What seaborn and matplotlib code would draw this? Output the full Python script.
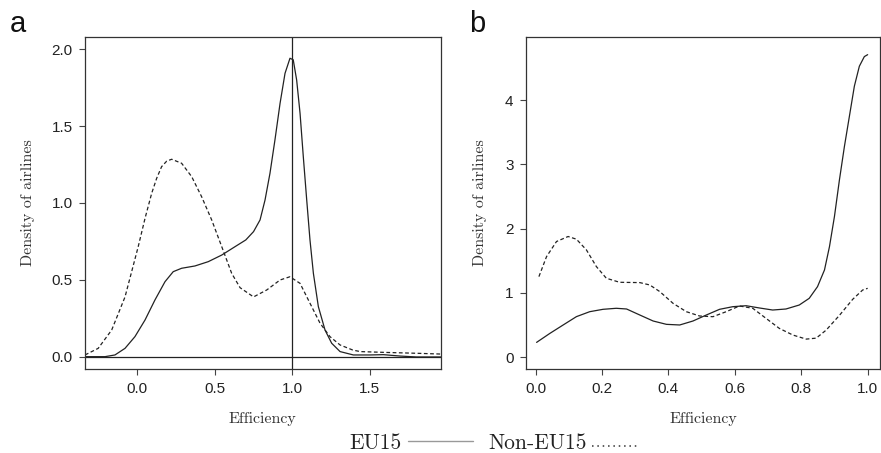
import numpy as np
import pandas as pd
import matplotlib
matplotlib.use("Agg")
import matplotlib.pyplot as plt
from matplotlib.lines import Line2D
import seaborn as sns

# panel a : all airlines, efficiency estimates
a_eu_x = [-0.337, -0.208, -0.144, -0.079, -0.015, 0.05, 0.114, 0.179, 0.232, 0.286, 0.372,
          0.458, 0.545, 0.63, 0.7, 0.75, 0.792, 0.824, 0.856, 0.888, 0.921, 0.953, 0.985,
          1.006, 1.028, 1.05, 1.071, 1.093, 1.114, 1.136, 1.168, 1.211, 1.254, 1.308,
          1.394, 1.5, 1.587, 1.695, 1.8, 1.957]
a_eu_y = [0.002, 0.002, 0.013, 0.056, 0.132, 0.24, 0.37, 0.489, 0.554, 0.576, 0.591,
          0.619, 0.662, 0.716, 0.76, 0.814, 0.89, 1.019, 1.193, 1.409, 1.647, 1.842, 1.94,
          1.93, 1.799, 1.582, 1.3, 1.019, 0.76, 0.543, 0.327, 0.175, 0.089, 0.035,
          0.013, 0.013, 0.015, 0.006, 0.0, 0.0]
a_non_x = [-0.337, -0.252, -0.165, -0.079, 0.006, 0.05, 0.093, 0.125, 0.157, 0.19, 0.222,
           0.286, 0.351, 0.415, 0.48, 0.545, 0.609, 0.663, 0.75, 0.835, 0.921, 0.985,
           1.05, 1.114, 1.179, 1.243, 1.308, 1.39, 1.437, 1.587, 1.8, 1.957]
a_non_y = [0.013, 0.056, 0.175, 0.39, 0.716, 0.9, 1.063, 1.16, 1.236, 1.272, 1.284,
           1.258, 1.171, 1.041, 0.89, 0.716, 0.543, 0.45, 0.39, 0.435, 0.5, 0.521,
           0.478, 0.349, 0.219, 0.132, 0.078, 0.045, 0.035, 0.03, 0.024, 0.019]

# panel b : bounded efficiency
b_eu_x = [0.003, 0.043, 0.083, 0.123, 0.163, 0.203, 0.243, 0.274, 0.314, 0.354, 0.394,
          0.434, 0.474, 0.514, 0.554, 0.594, 0.634, 0.674, 0.714, 0.754, 0.794, 0.824,
          0.849, 0.87, 0.885, 0.9, 0.915, 0.93, 0.945, 0.96, 0.975, 0.99, 1.0]
b_eu_y = [0.229, 0.369, 0.5, 0.63, 0.707, 0.744, 0.76, 0.749, 0.655, 0.562, 0.51,
          0.5, 0.562, 0.655, 0.744, 0.785, 0.8, 0.765, 0.733, 0.749, 0.811, 0.915,
          1.097, 1.357, 1.72, 2.19, 2.76, 3.28, 3.75, 4.22, 4.53, 4.68, 4.71]
b_non_x = [0.01, 0.033, 0.063, 0.098, 0.123, 0.153, 0.183, 0.213, 0.253, 0.314, 0.344,
           0.374, 0.414, 0.454, 0.494, 0.534, 0.574, 0.614, 0.654, 0.694, 0.734, 0.775,
           0.815, 0.845, 0.875, 0.915, 0.955, 0.985, 1.0]
b_non_y = [1.253, 1.565, 1.8, 1.878, 1.836, 1.67, 1.41, 1.228, 1.165, 1.16, 1.123,
           1.02, 0.837, 0.707, 0.64, 0.629, 0.707, 0.796, 0.76, 0.603, 0.447, 0.343,
           0.28, 0.295, 0.42, 0.65, 0.9, 1.045, 1.071]

a_xticks = [0.0, 0.5, 1.0, 1.5]
a_yticks = [0.0, 0.5, 1.0, 1.5, 2.0]
b_xticks = [0.0, 0.2, 0.4, 0.6, 0.8, 1.0]
b_yticks = [0, 1, 2, 3, 4]

sns.set_style("ticks")
plt.rcParams['font.family'] = ['Liberation Sans', 'DejaVu Sans']
SERIF = ['cmr10', 'DejaVu Serif']
INK = '#222222'

fig = plt.figure(figsize=(8.81, 4.53), dpi=100)
ax_a = fig.add_axes([0.0965, 0.1848, 0.4037, 0.7342])
ax_b = fig.add_axes([0.597, 0.1848, 0.4018, 0.7342])

dash = (0, (3, 2))

sns.lineplot(x=a_eu_x, y=a_eu_y, ax=ax_a, color=INK, lw=0.9, sort=False)
sns.lineplot(x=a_non_x, y=a_non_y, ax=ax_a, color=INK, lw=0.9, linestyle=dash, sort=False)
ax_a.axhline(0, color=INK, lw=0.9)
ax_a.axvline(1, color=INK, lw=0.9)
ax_a.set_xlim(-0.337, 1.957)
ax_a.set_ylim(-0.08, 2.08)
ax_a.set_xticks(a_xticks)
ax_a.set_yticks(a_yticks)
ax_a.set_xticklabels([f"{v:.1f}" for v in a_xticks])
ax_a.set_yticklabels([f"{v:.1f}" for v in a_yticks])

sns.lineplot(x=b_eu_x, y=b_eu_y, ax=ax_b, color=INK, lw=0.9, sort=False)
sns.lineplot(x=b_non_x, y=b_non_y, ax=ax_b, color=INK, lw=0.9, linestyle=dash, sort=False)
ax_b.set_xlim(-0.029, 1.037)
ax_b.set_ylim(-0.19, 4.99)
ax_b.set_xticks(b_xticks)
ax_b.set_yticks(b_yticks)
ax_b.set_xticklabels([f"{v:.1f}" for v in b_xticks])

for ax, lp in [(ax_a, 12), (ax_b, 13)]:
    for s in ax.spines.values():
        s.set_visible(True)
        s.set_color('#333333')
        s.set_linewidth(0.9)
    ax.tick_params(axis='both', direction='out', length=4.5, width=0.8, pad=4.5,
                   labelsize=11, colors='#444444', labelcolor=INK)
    ax.set_xlabel('Efficiency', fontfamily=SERIF, fontsize=11.5, color='#333333', labelpad=12)
    ax.set_ylabel('Density of airlines', fontfamily=SERIF, fontsize=11.5, color='#333333', labelpad=lp)

fig.text(0.011, 0.93, 'a', fontsize=21, color='#111111', va='baseline')
fig.text(0.533, 0.93, 'b', fontsize=21, color='#111111', va='baseline')

# legend strip underneath
ly = 0.008
fig.text(0.397, ly, 'EU15', fontfamily=SERIF, fontsize=15.5, color='#222222', va='baseline')
fig.add_artist(Line2D([0.463, 0.537], [0.027] * 2, color='#999999', lw=1.0))
fig.text(0.554, ly, 'Non-EU15', fontfamily=SERIF, fontsize=15.5, color='#222222', va='baseline')
fig.add_artist(Line2D([0.672, 0.723], [0.015] * 2, color='#333333', lw=1.1,
                      linestyle=(0, (1, 2.5))))

fig.savefig('out.png', dpi=100)
